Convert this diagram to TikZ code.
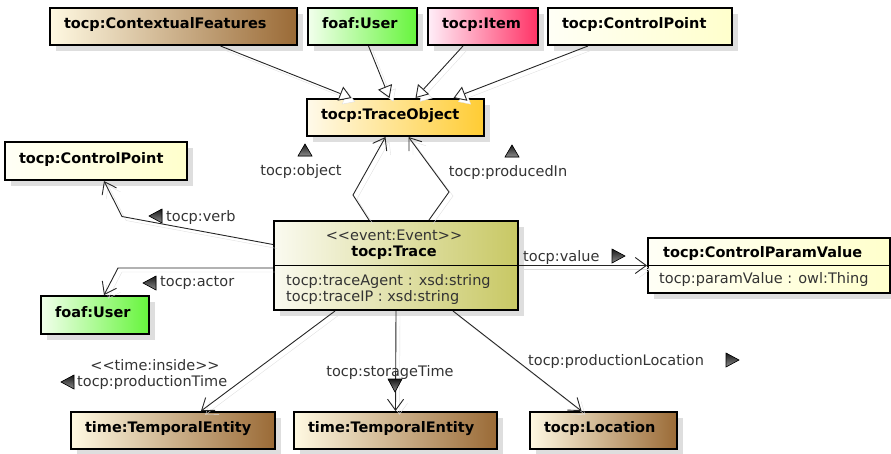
\documentclass[tikz,border=0pt]{standalone}
\usepackage{fontspec}
\setmainfont{DejaVu Sans}
\usetikzlibrary{arrows.meta,calc,shadows}

\definecolor{brownL}{HTML}{FFF9E2}
\definecolor{brownR}{HTML}{9A6A36}
\definecolor{greenL}{HTML}{F2FFEC}
\definecolor{greenR}{HTML}{66F53C}
\definecolor{pinkL}{HTML}{FFEEF8}
\definecolor{pinkR}{HTML}{FF3366}
\definecolor{goldL}{HTML}{FFFAEA}
\definecolor{goldR}{HTML}{FFCC33}
\definecolor{oliveL}{HTML}{FAFAF0}
\definecolor{oliveR}{HTML}{C8C864}
\definecolor{paleL}{HTML}{FFFFF6}
\definecolor{paleR}{HTML}{FFFFCC}

\newcommand\umlsize{\fontsize{14.5}{17}\selectfont}
% stereotype brackets, kept apart so they do not turn into guillemets
\newcommand\stereo[1]{<\kern0pt<#1>\kern0pt>}

\tikzset{
  umlbox/.style={draw=black, line width=2pt, anchor=north west, inner sep=0pt,
    drop shadow={shadow xshift=6pt, shadow yshift=-6pt, fill=black!13, opacity=1}},
  cls/.style={umlbox, inner xsep=14pt, minimum height=37pt, text width=#1pt-28pt,
    align=left, text height=10pt, text depth=6pt, font=\umlsize\bfseries},
  role/.style={inner sep=0pt, font=\umlsize, text=black!80},
  link/.style={draw=black!85, line width=0.9pt,
    preaction={draw=black!12, transform canvas={shift={(4pt,-4pt)}}}},
  gen/.style={link, -{Triangle[open, fill=white, length=12pt, width=15pt]}},
  assoc/.style={link, -{Straight Barb[length=11pt, width=16pt]}},
  dirmark/.style={draw=black, top color=black!90, bottom color=black!45, line width=0.6pt},
}

\begin{document}
\begin{tikzpicture}[x=1pt, y=-1pt]
  \useasboundingbox (0,0) rectangle (891,453);

  % super classes
  \node[cls=247, left color=brownL, right color=brownR] (ctxFeat) at (49,7) {tocp:ContextualFeatures};
  \node[cls=109, left color=greenL, right color=greenR] (userTop) at (307,7) {foaf:User};
  \node[cls=110, left color=pinkL, right color=pinkR] (item) at (427,7) {tocp:Item};
  \node[cls=184, left color=paleL, right color=paleR] (cpTop) at (547,7) {tocp:ControlPoint};

  \node[cls=177, left color=goldL, right color=goldR] (traceObj) at (306,98) {tocp:TraceObject};

  \node[cls=182, minimum height=38pt, left color=paleL, right color=paleR] (cpLeft) at (4,141) {tocp:ControlPoint};
  \node[cls=108, minimum height=38pt, left color=greenL, right color=greenR] (userLeft) at (40,295) {foaf:User};

  % the trace class with its attributes
  \node[umlbox, minimum width=244pt, minimum height=89pt, left color=oliveL, right color=oliveR] (trace) at (273,220) {};
  \draw[line width=0.8pt] (trace.west) -- (trace.east);
  \node[role, anchor=base] (traceStereo) at ($(trace.north)+(-2,20)$) {\stereo{event:Event}};
  \node[role, anchor=base, font=\umlsize\bfseries, text=black] (traceName) at ($(trace.north)+(-2,36)$) {tocp:Trace};
  \node[role, anchor=base west] (traceAgent) at ($(trace.west)+(13,19.5)$) {tocp:traceAgent : xsd:string};
  \node[role, anchor=base west] (traceIP) at ($(trace.west)+(13,35.5)$) {tocp:traceIP : xsd:string};

  \node[umlbox, minimum width=242pt, minimum height=55pt, left color=paleL, right color=paleR] (paramVal) at (647,237) {};
  \draw[line width=0.8pt] (paramVal.west) -- (paramVal.east);
  \node[role, anchor=base west, font=\umlsize\bfseries, text=black] (paramName) at ($(paramVal.north west)+(16,20)$) {tocp:ControlParamValue};
  \node[role, anchor=base west] (paramAttr) at ($(paramVal.north west)+(12,46)$) {tocp:paramValue : owl:Thing};

  % range classes
  \node[cls=204, left color=brownL, right color=brownR] (timeProd) at (70,411) {time:TemporalEntity};
  \node[cls=203, left color=brownL, right color=brownR] (timeStore) at (293,411) {time:TemporalEntity};
  \node[cls=147, left color=brownL, right color=brownR] (location) at (529,411) {tocp:Location};

  % generalisations
  \draw[gen] ($(ctxFeat.south)+(47,0)$) -- ($(traceObj.north)+(-44,0)$);
  \draw[gen] ($(userTop.south)+(6,0)$) -- ($(traceObj.north)+(-6,0)$);
  \draw[gen] ($(item.south)+(-20,0)$) -- ($(traceObj.north)+(20,0)$);
  \draw[gen] ($(cpTop.south)+(-52,0)$) -- ($(traceObj.north)+(58,0)$);

  % properties of the trace
  \draw[assoc] ($(trace.north)+(-27,0)$) -- ++(-16,-25) -- ($(traceObj.south)+(-10,0)$);
  \draw[assoc] ($(trace.north)+(33,0)$) -- ++(20,-28) -- ($(traceObj.south)+(13,0)$);
  \draw[assoc] ($(trace.west)+(0,-21)$) -- ++(-151,-28) -- ($(cpLeft.south)+(8,0)$);
  \draw[assoc] ($(trace.west)+(0,2.5)$) -- ++(-155,0) -- ($(userLeft.north)+(9,0)$);
  \draw[assoc] (trace.east) -- (paramVal.west);
  \draw[assoc] ($(trace.south)+(-61,0)$) -- ($(timeProd.north)+(28,0)$);
  \draw[assoc] (trace.south) -- (timeStore.north);
  \draw[assoc] ($(trace.south)+(57,0)$) -- ($(location.north)+(-22,0)$);

  % property names and reading directions
  \node[role] (lblObject) at (301,171) {tocp:object};
  \filldraw[dirmark] (298,156) -- (312,156) -- (305,144) -- cycle;
  \node[role] (lblProduced) at (508,172) {tocp:producedIn};
  \filldraw[dirmark] (505,157) -- (519,157) -- (512,145) -- cycle;
  \node[role, anchor=west] (lblVerb) at (166,217) {tocp:verb};
  \filldraw[dirmark] (149,216) -- (162,209) -- (162,223) -- cycle;
  \node[role, anchor=west] (lblActor) at (160,283) {tocp:actor};
  \filldraw[dirmark] (143,283) -- (156,276) -- (156,290) -- cycle;
  \node[role, anchor=west] (lblValue) at (523,257) {tocp:value};
  \filldraw[dirmark] (625,256) -- (612,249) -- (612,263) -- cycle;
  \node[role] (lblInside) at (155,365) {\stereo{time:inside}};
  \node[role, anchor=west] (lblProdTime) at (77,382) {tocp:productionTime};
  \filldraw[dirmark] (61,382) -- (74,375) -- (74,389) -- cycle;
  \node[role] (lblStorage) at (390,372) {tocp:storageTime};
  \filldraw[dirmark] (395,392) -- (388,379) -- (402,379) -- cycle;
  \node[role, anchor=west] (lblLocation) at (528,361) {tocp:productionLocation};
  \filldraw[dirmark] (739,360) -- (726,353) -- (726,367) -- cycle;
\end{tikzpicture}
\end{document}
